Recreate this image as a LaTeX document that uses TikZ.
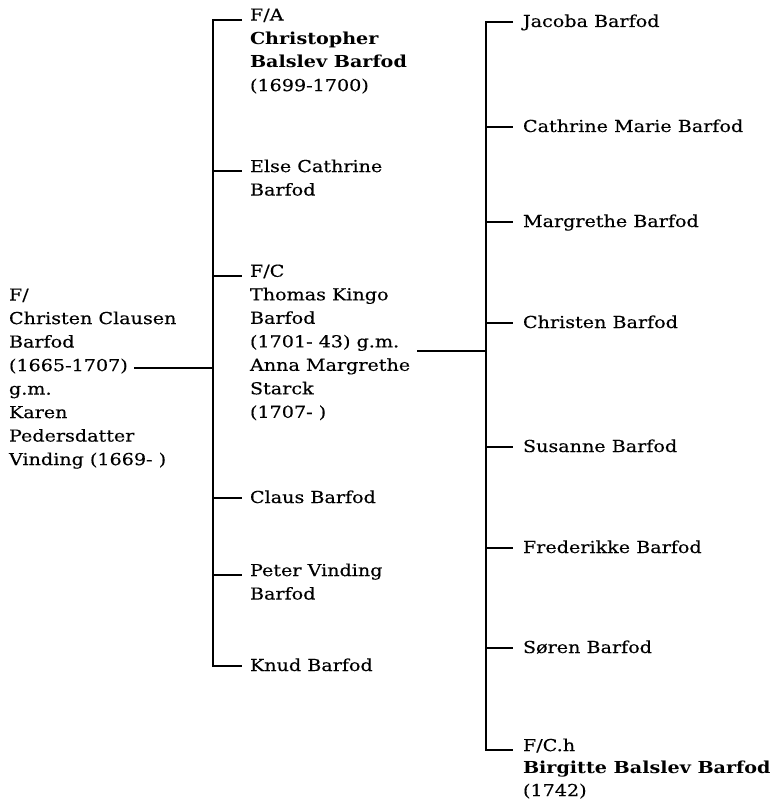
\documentclass[tikz,border=0pt]{standalone}
\usepackage{fontspec}
\setmainfont{DejaVu Serif}[FakeStretch=1.16, UprightFeatures={FakeBold=0.3}]
\begin{document}
\begin{tikzpicture}[x=1pt,y=-1pt,
  line width=1.5pt,
  person/.style={anchor=north west, inner sep=0pt, outer sep=0pt, align=left,
    font=\fontsize{16.5}{23.5}\selectfont, yshift=11.45pt,
    execute at begin node=\strut},
  link/.style={line width=1.5pt, line join=miter}]
\useasboundingbox (0,0) rectangle (773,805);
% bus lines
\coordinate (busA) at (213,0);
\coordinate (busB) at (486,0);
% root
\node[person] (root) at (9,300) {F/\\Christen Clausen\\Barfod\\(1665-1707)\\g.m.\\Karen\\Pedersdatter\\Vinding (1669- )};
\coordinate (rootc) at (134,368);
% first generation
\coordinate (a1) at (242,20);
\coordinate (a2) at (242,171);
\coordinate (a3) at (242,276);
\coordinate (a4) at (242,498);
\coordinate (a5) at (242,575);
\coordinate (a6) at (242,666);
\node[person] (fa) at (250,20) {F/A\\\textbf{Christopher}\\\textbf{Balslev Barfod}\\(1699-1700)};
\node[person] (else) at (250,171) {Else Cathrine\\Barfod};
\node[person] (fc) at (250,276) {F/C\\Thomas Kingo\\Barfod\\(1701- 43) g.m.\\Anna Margrethe\\Starck\\(1707- )};
\node[person] (claus) at (250,498) {Claus Barfod};
\node[person] (peter) at (250,575) {Peter Vinding\\Barfod};
\node[person] (knud) at (250,666) {Knud Barfod};
\coordinate (fcc) at (417,351);
% second generation
\coordinate (b1) at (513,22);
\coordinate (b2) at (513,127);
\coordinate (b3) at (513,222);
\coordinate (b4) at (513,323);
\coordinate (b5) at (513,447);
\coordinate (b6) at (513,548);
\coordinate (b7) at (513,648);
\coordinate (b8) at (513,750);
\node[person] (jacoba) at (523,22) {Jacoba Barfod};
\node[person] (cathm) at (523,127) {Cathrine Marie Barfod};
\node[person] (marg) at (523,222) {Margrethe Barfod};
\node[person] (christen) at (523,323) {Christen Barfod};
\node[person] (susanne) at (523,447) {Susanne Barfod};
\node[person] (fred) at (523,548) {Frederikke Barfod};
\node[person] (soren) at (523,648) {Søren Barfod};
\node[person, font=\fontsize{16.5}{22.5}\selectfont] (birgitte) at (523,750) {F/C.h\\\textbf{Birgitte Balslev Barfod}\\(1742)};
% connectors
\draw[link] (rootc) -- (rootc -| busA);
\draw[link] (a1) -- (a1 -| busA) -- (a6 -| busA) -- (a6);
\foreach \t in {a2,a3,a4,a5} \draw[link] (\t -| busA) -- (\t);
\draw[link] (fcc) -- (fcc -| busB);
\draw[link] (b1) -- (b1 -| busB) -- (b8 -| busB) -- (b8);
\foreach \t in {b2,b3,b4,b5,b6,b7} \draw[link] (\t -| busB) -- (\t);
\end{tikzpicture}
\end{document}
